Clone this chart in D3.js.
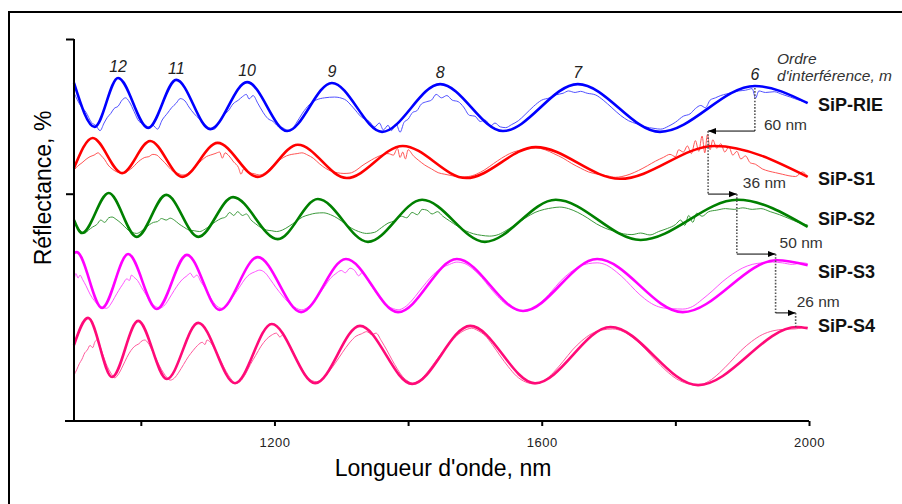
<!DOCTYPE html>
<html><head><meta charset="utf-8">
<script src="https://cdn.jsdelivr.net/npm/d3@7"></script>
<style>body{margin:0;background:#fff;} svg{display:block;font-family:"Liberation Sans",Arial,sans-serif;}</style>
</head><body>
<svg id="chart" width="902" height="504"></svg>
<script>
// ---------- DATA ----------
const xTicks = [1000, 1200, 1400, 1600, 1800, 2000];
const xTickLabels = ["", "1200", "", "1600", "", "2000"];
const yTicks = [59.5, 100];
const seriesNames = ["SiP-RIE", "SiP-S1", "SiP-S2", "SiP-S3", "SiP-S4"];
const orderLabels = ["12", "11", "10", "9", "8", "7", "6"];
const orderWavelengths = [966, 1053, 1159, 1286, 1448, 1654, 1919];

// model (thick) curves: [wavelength nm, reflectance (offset, a.u.)]
const rieModel = [[900,88.5],[931,77.0],[966,89.8],[1011,76.7],[1053,89.3],[1104,76.4],[1159,88.7],[1219,75.9],[1286,88.5],[1361,75.7],[1448,88.2],[1542,75.9],[1654,88.2],[1777,75.7],[1919,87.7],[1998,83.2]];
const s1Model = [[900,66.2],[928,74.1],[972,64.9],[1014,73.3],[1062,63.9],[1115,72.8],[1175,63.9],[1235,72.3],[1308,63.6],[1392,72.0],[1487,63.6],[1591,71.7],[1717,63.4],[1859,72.0],[1998,63.9]];
const s2Model = [[900,52.6],[912,49.2],[952,59.7],[994,48.2],[1038,59.2],[1086,48.2],[1138,58.6],[1205,47.6],[1265,58.1],[1340,46.9],[1421,57.9],[1515,46.9],[1621,57.9],[1748,47.4],[1893,57.9],[1998,50.8]];
const s3Model = [[900,44.0],[904,44.2],[942,29.6],[981,43.7],[1024,29.3],[1069,43.5],[1118,29.1],[1175,42.9],[1240,28.5],[1307,42.4],[1385,28.5],[1473,42.4],[1572,28.8],[1683,42.4],[1811,28.5],[1952,42.1],[1998,40.8]];
const s4Model = [[900,19.9],[921,27.0],[957,11.5],[996,26.2],[1039,11.0],[1086,25.7],[1141,9.9],[1196,25.4],[1261,9.9],[1328,24.9],[1406,9.7],[1493,24.9],[1590,9.9],[1703,24.6],[1834,9.4],[1982,24.6],[1998,24.3]];

// measured (thin) curves
const rieMeas = [[900,85.9],[910,82.5],[918,80.8],[926,78.2],[933,77.3],[939,76.0],[945,78.0],[950,79.5],[955,80.5],[960,81.8],[966,82.4],[972,84.0],[977,84.6],[983,83.5],[990,81.0],[997,78.5],[1004,77.8],[1012,77.0],[1018,77.4],[1025,76.4],[1032,78.8],[1040,80.6],[1046,82.0],[1053,83.2],[1059,84.4],[1066,83.8],[1072,82.2],[1080,80.4],[1088,79.0],[1096,77.6],[1104,76.6],[1110,76.4],[1116,77.8],[1124,80.0],[1131,81.2],[1138,83.0],[1146,84.0],[1152,84.9],[1158,85.5],[1162,84.3],[1168,85.2],[1175,83.2],[1183,80.8],[1190,79.2],[1198,78.4],[1205,77.2],[1212,76.8],[1218,76.2],[1224,76.0],[1232,77.8],[1242,80.6],[1252,82.8],[1262,84.0],[1275,84.6],[1290,84.8],[1305,84.2],[1318,82.0],[1330,79.6],[1342,78.4],[1350,77.0],[1357,78.0],[1363,76.2],[1370,77.4],[1375,76.0],[1382,77.8],[1388,75.6],[1394,78.2],[1400,79.0],[1407,80.8],[1413,81.2],[1420,83.0],[1428,83.6],[1435,84.0],[1442,85.5],[1450,84.6],[1458,85.2],[1466,84.0],[1475,83.6],[1483,82.2],[1492,80.0],[1500,79.8],[1508,78.4],[1515,78.8],[1524,77.3],[1530,78.0],[1538,77.0],[1546,76.8],[1555,77.6],[1565,78.6],[1575,80.2],[1588,82.4],[1600,84.0],[1612,84.6],[1622,85.4],[1632,85.8],[1640,86.4],[1650,86.0],[1658,86.3],[1668,85.8],[1680,85.4],[1692,84.0],[1705,82.0],[1718,80.0],[1730,78.6],[1742,77.8],[1755,77.0],[1768,76.6],[1778,76.4],[1790,77.2],[1800,78.2],[1812,79.8],[1822,80.4],[1830,81.8],[1838,82.6],[1845,82.0],[1852,84.0],[1860,84.6],[1868,85.2],[1876,85.6],[1885,86.0],[1895,86.4],[1905,86.6],[1915,87.0],[1920,84.5],[1925,86.4],[1935,86.0],[1948,86.2],[1960,85.5],[1972,84.8],[1985,84.0],[1998,83.4]];
const s1Meas = [[900,65.7],[906,66.8],[912,67.6],[918,68.5],[924,69.2],[930,69.6],[936,70.2],[941,69.4],[946,68.4],[951,67.0],[957,66.0],[963,65.3],[969,65.0],[976,64.9],[982,65.6],[988,66.4],[994,67.5],[1000,68.4],[1006,69.0],[1012,69.2],[1018,69.8],[1024,69.6],[1030,68.6],[1036,67.6],[1042,66.4],[1048,65.4],[1055,64.9],[1063,64.4],[1070,64.8],[1077,65.8],[1084,67.0],[1091,68.2],[1098,69.2],[1104,69.6],[1111,70.0],[1118,70.4],[1122,68.8],[1126,70.2],[1132,69.4],[1139,67.8],[1146,66.4],[1150,64.6],[1154,66.0],[1160,65.0],[1168,64.8],[1178,64.4],[1186,65.0],[1194,66.2],[1202,67.6],[1210,68.6],[1218,69.4],[1226,69.8],[1234,70.0],[1241,70.2],[1250,69.6],[1258,68.8],[1267,67.4],[1276,66.2],[1285,65.4],[1294,65.0],[1304,64.8],[1313,64.9],[1322,65.6],[1331,66.8],[1340,67.8],[1350,68.8],[1360,69.6],[1370,70.0],[1378,69.6],[1384,71.4],[1388,69.0],[1392,70.4],[1396,68.6],[1400,71.0],[1408,69.4],[1416,68.2],[1425,67.0],[1435,66.0],[1445,65.0],[1455,64.6],[1466,64.2],[1478,63.9],[1490,64.0],[1502,64.6],[1515,65.8],[1528,67.4],[1540,68.8],[1552,70.0],[1565,70.8],[1578,71.2],[1591,71.5],[1605,71.0],[1618,70.0],[1632,68.8],[1645,67.4],[1658,66.2],[1670,65.2],[1684,64.6],[1698,64.2],[1710,63.8],[1720,64.0],[1732,64.6],[1745,65.6],[1758,66.8],[1770,68.0],[1782,69.0],[1792,69.8],[1800,69.2],[1805,71.0],[1812,70.4],[1818,72.0],[1824,70.0],[1830,73.4],[1835,70.6],[1840,74.6],[1844,70.2],[1848,75.0],[1852,71.0],[1856,73.6],[1862,71.4],[1868,72.6],[1874,70.4],[1880,71.8],[1886,69.6],[1892,70.6],[1898,68.6],[1905,69.4],[1912,67.6],[1920,67.2],[1930,66.0],[1940,65.4],[1950,65.0],[1960,64.6],[1970,64.2],[1980,64.0],[1990,65.2],[1998,64.0]];
const s2Meas = [[900,52.1],[905,50.8],[910,49.8],[916,49.2],[922,50.0],[928,50.8],[934,51.4],[940,52.6],[946,52.0],[952,53.2],[957,53.4],[963,52.8],[969,52.0],[975,51.0],[981,50.0],[987,49.4],[994,49.1],[1000,49.6],[1006,50.4],[1013,51.4],[1019,52.0],[1025,52.2],[1031,53.0],[1038,52.6],[1044,53.1],[1050,52.6],[1057,51.6],[1064,50.8],[1072,50.0],[1080,49.8],[1088,49.6],[1096,50.2],[1104,51.2],[1112,52.2],[1120,53.0],[1127,53.4],[1133,54.6],[1139,53.8],[1145,54.8],[1152,53.8],[1158,54.2],[1165,52.6],[1172,51.6],[1180,50.6],[1188,50.0],[1196,49.8],[1203,49.6],[1212,50.0],[1222,51.0],[1232,52.2],[1242,53.4],[1252,54.0],[1262,54.4],[1273,54.5],[1284,54.0],[1295,53.0],[1306,51.6],[1316,50.4],[1326,49.6],[1338,49.1],[1350,49.4],[1360,50.6],[1370,51.8],[1380,52.4],[1390,53.6],[1398,53.2],[1406,54.6],[1414,54.0],[1421,55.4],[1428,55.2],[1436,54.2],[1444,54.8],[1452,53.6],[1462,52.4],[1474,51.0],[1486,49.8],[1498,49.0],[1510,48.6],[1522,48.4],[1535,48.8],[1548,50.0],[1562,51.6],[1576,53.2],[1590,54.6],[1604,55.4],[1616,55.8],[1627,56.0],[1640,55.6],[1654,54.6],[1668,53.2],[1682,51.6],[1696,50.4],[1710,49.6],[1722,49.0],[1735,48.8],[1748,49.2],[1762,48.7],[1775,49.6],[1788,50.4],[1800,51.4],[1808,52.6],[1814,51.2],[1820,53.8],[1826,52.0],[1832,54.4],[1840,53.6],[1850,54.8],[1862,55.2],[1875,55.6],[1888,55.4],[1901,55.8],[1915,55.4],[1928,55.6],[1942,54.8],[1956,54.0],[1970,53.0],[1984,52.0],[1998,51.3]];
const s3Meas = [[900,36.9],[903,38.6],[906,37.4],[909,38.2],[913,37.0],[918,35.4],[924,33.2],[930,31.6],[936,30.4],[942,29.8],[949,29.5],[955,30.6],[961,32.4],[967,34.2],[973,35.8],[979,37.2],[983,36.8],[986,38.2],[990,37.6],[995,36.8],[1001,35.0],[1008,33.0],[1015,31.0],[1022,30.0],[1029,29.6],[1036,30.4],[1043,32.2],[1050,34.2],[1057,36.0],[1063,37.2],[1069,38.0],[1074,38.7],[1079,37.6],[1084,38.2],[1090,36.4],[1097,34.6],[1104,32.4],[1111,30.6],[1121,29.5],[1128,30.0],[1135,31.8],[1142,33.6],[1149,35.4],[1156,37.2],[1163,38.4],[1170,39.0],[1178,39.5],[1186,38.8],[1194,37.0],[1202,35.0],[1211,33.0],[1220,31.2],[1230,29.8],[1241,29.1],[1250,29.8],[1258,31.0],[1266,33.0],[1275,35.2],[1284,37.4],[1292,38.6],[1300,39.4],[1306,38.8],[1313,40.0],[1320,39.4],[1326,38.0],[1332,39.0],[1338,37.4],[1345,35.4],[1353,33.4],[1361,31.4],[1370,30.0],[1378,29.4],[1385,29.1],[1395,29.8],[1405,31.4],[1416,33.8],[1427,36.2],[1438,38.4],[1450,40.0],[1462,41.0],[1473,41.6],[1485,41.2],[1497,39.8],[1510,37.6],[1522,35.0],[1534,32.6],[1546,30.6],[1558,29.4],[1572,28.8],[1586,29.4],[1600,31.2],[1614,33.8],[1628,36.6],[1642,38.8],[1656,40.4],[1670,41.2],[1683,41.4],[1697,40.8],[1712,39.0],[1726,36.8],[1740,34.2],[1754,32.0],[1768,30.4],[1782,29.6],[1796,29.4],[1811,29.3],[1826,30.0],[1840,31.8],[1855,34.0],[1870,36.4],[1885,38.4],[1900,40.0],[1915,41.0],[1930,41.4],[1945,41.6],[1960,41.4],[1975,41.0],[1990,41.4],[1998,41.2]];
const s4Meas = [[900,12.0],[904,13.4],[908,15.0],[912,16.2],[916,17.8],[920,18.6],[924,19.8],[928,19.2],[931,20.6],[934,21.2],[938,20.0],[942,18.0],[946,16.0],[950,14.2],[955,12.6],[961,11.3],[967,12.4],[973,14.4],[979,16.6],[985,18.4],[991,19.6],[997,20.2],[1002,21.0],[1006,21.2],[1011,20.4],[1016,18.8],[1022,16.6],[1028,14.4],[1034,12.6],[1039,11.4],[1044,10.7],[1050,11.2],[1057,12.8],[1064,14.8],[1071,16.8],[1078,18.4],[1085,19.8],[1092,20.6],[1096,20.0],[1099,21.2],[1104,20.6],[1110,19.0],[1117,16.8],[1124,14.2],[1131,12.0],[1137,10.6],[1143,9.9],[1150,10.6],[1157,12.4],[1164,14.8],[1172,17.2],[1180,19.6],[1188,21.4],[1195,22.4],[1203,23.0],[1208,22.0],[1213,22.6],[1220,20.6],[1228,18.0],[1236,15.2],[1244,12.8],[1252,11.0],[1263,10.3],[1272,11.0],[1282,13.0],[1292,15.4],[1302,18.0],[1312,20.4],[1322,22.2],[1330,22.8],[1338,23.4],[1346,22.6],[1352,23.0],[1360,21.0],[1368,18.6],[1376,16.0],[1384,13.6],[1392,11.6],[1400,10.4],[1408,9.9],[1418,10.8],[1428,12.6],[1440,15.4],[1452,18.2],[1464,20.8],[1476,22.8],[1488,24.0],[1495,24.3],[1505,23.6],[1515,22.4],[1526,20.0],[1538,17.0],[1550,14.2],[1562,11.8],[1576,10.2],[1590,9.7],[1604,10.6],[1618,12.8],[1632,15.6],[1646,18.6],[1660,21.0],[1674,22.8],[1690,23.8],[1706,24.1],[1722,23.4],[1738,21.6],[1754,19.0],[1770,16.0],[1786,13.2],[1802,11.0],[1818,9.8],[1834,9.4],[1850,10.4],[1866,12.6],[1882,15.4],[1898,18.4],[1914,20.8],[1930,22.6],[1946,23.6],[1962,24.0],[1979,24.1],[1990,24.4],[1998,24.6]];

// peak-shift annotation: peak wavelengths of each sample (nm), levels (a.u.), labels
const shiftPeaks = [1919, 1849, 1892, 1950, 1980];
const shiftLevels = [87.2, 75.9, 59.4, 43.7, 28.3, 24.6];
const shiftLabels = ["60 nm", "36 nm", "50 nm", "26 nm"];

// ---------- STYLE / LAYOUT ----------
const modelColors = ["#0000ff", "#ff0000", "#008000", "#ff00ff", "#ff0a78"];
const measColors  = ["#5050ff", "#ff5555", "#3c9a3c", "#ff55ff", "#ff5a9c"];
const labelValues = [81.2, 61.8, 51.3, 37.4, 23.3];
const shiftLabelDx = [9, 6, 4, 1];

const svg = d3.select("#chart");
const x = d3.scaleLinear().domain([900, 2000]).range([74, 809]);
const y = d3.scaleLinear().domain([0, 100]).range([421, 39]);

// frame
svg.append("path").attr("d", "M9,504 L9,12 L902,12").attr("fill", "none").attr("stroke", "#000").attr("stroke-width", 2);

// curves
const line = d3.line().x(d => x(d[0])).y(d => y(d[1])).curve(d3.curveMonotoneX);
const models = [rieModel, s1Model, s2Model, s3Model, s4Model];
const meas = [rieMeas, s1Meas, s2Meas, s3Meas, s4Meas];
const g = svg.append("g");
meas.forEach((m, i) => {
  g.append("path").attr("d", line(m)).attr("fill", "none").attr("stroke", measColors[i]).attr("stroke-width", 1);
  g.append("path").attr("d", line(models[i])).attr("fill", "none").attr("stroke", modelColors[i]).attr("stroke-width", 2.6).attr("stroke-linejoin", "round");
});

// axes
const xAxis = d3.axisBottom(x).tickValues(xTicks).tickSize(5).tickPadding(12)
  .tickFormat((d, i) => xTickLabels[i]);
const gx = svg.append("g").attr("transform", `translate(0,${y(0)})`).call(xAxis);
gx.select(".domain").remove();
gx.selectAll(".tick line").attr("stroke", "#000").attr("stroke-width", 2);
gx.selectAll(".tick text").attr("font-size", 13).attr("fill", "#222")
  .attr("font-family", "'Liberation Sans Narrow','Liberation Sans',Arial,sans-serif").attr("letter-spacing", "0.5px");
gx.append("line").attr("x1", x(900) - 9).attr("x2", x(2000)).attr("y1", 0).attr("y2", 0).attr("stroke", "#000").attr("stroke-width", 2);

const yAxis = d3.axisLeft(y).tickValues(yTicks).tickSize(8).tickFormat("");
const gy = svg.append("g").attr("transform", `translate(${x(900)},0)`).call(yAxis);
gy.select(".domain").remove();
gy.selectAll(".tick line").attr("stroke", "#000").attr("stroke-width", 2);
gy.append("line").attr("x1", 0).attr("x2", 0).attr("y1", y(0)).attr("y2", y(100)).attr("stroke", "#000").attr("stroke-width", 2);

// axis titles
svg.append("text").attr("x", 443).attr("y", 476).attr("text-anchor", "middle")
  .attr("font-size", 23).attr("fill", "#000").text("Longueur d'onde, nm");
svg.append("text").attr("transform", "translate(51,188) rotate(-90)").attr("text-anchor", "middle")
  .attr("font-size", 23).attr("fill", "#000").text("Réflectance, %");

// interference order labels
const rieLine = d3.scaleLinear().domain(rieModel.map(d => d[0])).range(rieModel.map(d => d[1]));
orderLabels.forEach((t, i) => {
  svg.append("text").attr("x", x(orderWavelengths[i])).attr("y", y(rieLine(orderWavelengths[i])) - 6)
    .attr("text-anchor", "middle").attr("font-size", 16).attr("font-style", "italic").attr("fill", "#222").text(t);
});
svg.append("text").attr("x", 777).attr("y", 64).attr("font-size", 15.5).attr("font-style", "italic").attr("fill", "#333").text("Ordre");
svg.append("text").attr("x", 777).attr("y", 81).attr("font-size", 15.5).attr("font-style", "italic").attr("fill", "#333").text("d'interférence, m");

// series labels
seriesNames.forEach((n, i) => {
  svg.append("text").attr("x", 818).attr("y", y(labelValues[i])).attr("font-size", 18).attr("font-weight", "bold")
    .attr("fill", "#111").text(n);
});

// peak shift annotation
const defs = svg.append("defs");
defs.append("marker").attr("id", "ah").attr("viewBox", "0 0 10 10").attr("refX", 10).attr("refY", 5)
  .attr("markerWidth", 8).attr("markerHeight", 8).attr("markerUnits", "userSpaceOnUse").attr("orient", "auto")
  .append("path").attr("d", "M0,1 L10,5 L0,9 Z").attr("fill", "#000");
const ann = svg.append("g");
shiftPeaks.forEach((p, i) => {
  ann.append("line").attr("x1", x(p)).attr("x2", x(p)).attr("y1", y(shiftLevels[i])).attr("y2", y(shiftLevels[i + 1]))
    .attr("stroke", "#555").attr("stroke-width", 1.6).attr("stroke-dasharray", "1.6,1.6");
  if (i < shiftPeaks.length - 1) {
    ann.append("line").attr("x1", x(p)).attr("x2", x(shiftPeaks[i + 1])).attr("y1", y(shiftLevels[i + 1])).attr("y2", y(shiftLevels[i + 1]))
      .attr("stroke", "#000").attr("stroke-width", 1).attr("marker-end", "url(#ah)");
    const lx = Math.max(x(p), x(shiftPeaks[i + 1])) + shiftLabelDx[i];
    const ly = i === 0 ? y(shiftLevels[i + 1]) - 1 : y(shiftLevels[i + 1]) - 6;
    ann.append("text").attr("x", lx).attr("y", ly).attr("font-size", 15.5).attr("fill", "#333").text(shiftLabels[i]);
  }
});
</script>
</body></html>
